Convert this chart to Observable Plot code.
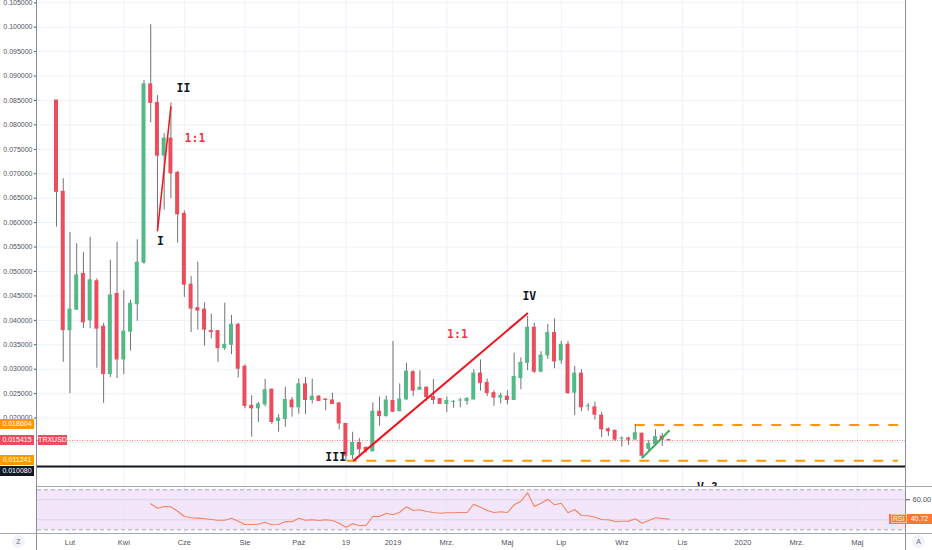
<!DOCTYPE html>
<html>
<head>
<meta charset="utf-8">
<script src="https://cdn.jsdelivr.net/npm/d3@7"></script>
<script src="https://cdn.jsdelivr.net/npm/@observablehq/plot@0.6"></script>
<style>
  html, body { margin: 0; padding: 0; background: #fff; }
  #wrap { position: relative; width: 932px; height: 550px; overflow: hidden; font-family: "Liberation Sans", Arial, sans-serif; }
  #wrap svg { position: absolute; left: 0; }
  .badge { position: absolute; left: 0; width: 34px; height: 10px; line-height: 10px; font-size: 7px; color: #fff; text-align: center; }
  .line { position: absolute; }
  .circ { position: absolute; width: 13px; height: 13px; border-radius: 50%; background: #f0f3fa; color: #6a6d78; font-size: 7px; line-height: 13px; text-align: center; }
</style>
</head>
<body>
<div id="wrap"></div>
<script>
// ---------------- DATA ----------------
const firstWeek = "2018-01-22";   // weekly candles, TRXUSD
const open = [0.0850,0.0663,0.0380,0.0422,0.0495,0.0400,0.0480,0.0387,0.0290,0.0454,
  0.0320,0.0377,0.0433,0.0518,0.0883,0.0845,0.0737,0.0772,0.0702,0.0618,
  0.0473,0.0425,0.0422,0.0378,0.0378,0.0343,0.0350,0.0391,0.0305,0.0225,
  0.0220,0.0228,0.0258,0.0194,0.0198,0.0236,0.0222,0.0269,0.0237,0.0244,
  0.0238,0.0236,0.0230,0.0188,0.0124,0.0149,0.0139,0.0132,0.0213,0.0204,
  0.0235,0.0214,0.0238,0.0294,0.0258,0.0262,0.0243,0.0239,0.0229,0.0233,
  0.0236,0.0235,0.0238,0.0291,0.0272,0.0251,0.0242,0.0244,0.0237,0.0282,
  0.0313,0.0385,0.0295,0.0328,0.0374,0.0318,0.0350,0.0252,0.0291,0.0224,
  0.0222,0.0205,0.0177,0.0174,0.0158,0.0158,0.0156,0.0168,0.0137,0.0147,
  0.0162,0.0155];
const high = [0.0850,0.0690,0.0580,0.0557,0.0539,0.0570,0.0485,0.0394,0.0523,0.0560,
  0.0461,0.0441,0.0565,0.0891,0.1005,0.0860,0.0782,0.0845,0.0705,0.0624,
  0.0490,0.0519,0.0436,0.0413,0.0379,0.0435,0.0410,0.0394,0.0309,0.0246,
  0.0232,0.0279,0.0260,0.0207,0.0263,0.0242,0.0280,0.0283,0.0280,0.0246,
  0.0239,0.0251,0.0232,0.0189,0.0171,0.0158,0.0141,0.0231,0.0243,0.0245,
  0.0357,0.0270,0.0312,0.0297,0.0297,0.0264,0.0279,0.0240,0.0243,0.0236,
  0.0240,0.0242,0.0299,0.0319,0.0280,0.0256,0.0251,0.0256,0.0333,0.0323,
  0.0408,0.0394,0.0336,0.0392,0.0403,0.0357,0.0357,0.0306,0.0299,0.0230,
  0.0233,0.0212,0.0180,0.0175,0.0161,0.0161,0.0187,0.0169,0.0154,0.0176,
  0.0169,0.0156];
const low = [0.0591,0.0314,0.0250,0.0420,0.0383,0.0383,0.0302,0.0230,0.0283,0.0281,
  0.0289,0.0337,0.0398,0.0515,0.0804,0.0584,0.0626,0.0649,0.0558,0.0447,
  0.0375,0.0380,0.0347,0.0362,0.0314,0.0338,0.0330,0.0282,0.0219,0.0161,
  0.0191,0.0223,0.0187,0.0171,0.0181,0.0202,0.0208,0.0207,0.0229,0.0234,
  0.0215,0.0228,0.0176,0.0112,0.0115,0.0123,0.0128,0.0131,0.0183,0.0202,
  0.0212,0.0213,0.0237,0.0244,0.0257,0.0235,0.0228,0.0228,0.0211,0.0220,
  0.0221,0.0226,0.0237,0.0255,0.0244,0.0224,0.0229,0.0227,0.0236,0.0258,
  0.0297,0.0291,0.0293,0.0320,0.0301,0.0310,0.0249,0.0205,0.0213,0.0214,
  0.0196,0.0160,0.0162,0.0152,0.0141,0.0144,0.0155,0.0117,0.0133,0.0146,
  0.0142,0.0154];
const close = [0.0663,0.0380,0.0422,0.0492,0.0396,0.0482,0.0383,0.0290,0.0451,0.0320,
  0.0377,0.0434,0.0518,0.0883,0.0845,0.0737,0.0772,0.0701,0.0617,0.0473,
  0.0424,0.0420,0.0381,0.0376,0.0343,0.0350,0.0391,0.0301,0.0225,0.0220,
  0.0228,0.0257,0.0192,0.0199,0.0237,0.0222,0.0269,0.0237,0.0244,0.0235,
  0.0237,0.0229,0.0189,0.0123,0.0149,0.0136,0.0134,0.0213,0.0204,0.0236,
  0.0213,0.0238,0.0295,0.0256,0.0262,0.0243,0.0237,0.0229,0.0235,0.0233,
  0.0236,0.0239,0.0291,0.0272,0.0251,0.0242,0.0245,0.0237,0.0284,0.0313,
  0.0385,0.0295,0.0328,0.0374,0.0316,0.0350,0.0251,0.0291,0.0222,0.0224,
  0.0207,0.0177,0.0173,0.0156,0.0158,0.0156,0.0169,0.0123,0.0147,0.0161,
  0.0156,0.015415];

const rsiStart = 14;   // first week with an RSI value
const rsi = [56,51.6,53.3,53,48.6,43.3,42,41.7,41,40.3,
  39.6,39.6,41.6,38.6,35.3,35.3,35.6,37.6,35,35.3,
  38.3,38,41.6,39.6,40,39.3,40,39.3,36.6,32.6,
  36,34.3,34.3,43.6,43.3,46.6,45,47.6,53,49.3,
  50,48.3,47.3,46.6,47,47,47.3,47.3,55.6,52.6,
  49.3,47.3,48,47.3,55,58.6,67,53.3,56.6,60.6,
  55,56.6,47,50.3,44.3,44,42.6,40.3,40,38.3,
  38.6,38.6,41,36.6,39.3,42,41.3,40.72];

const tickDates = ["2018-02-05","2018-04-02","2018-06-04","2018-08-06","2018-10-01","2018-11-19",
  "2019-01-07","2019-03-04","2019-05-06","2019-07-01","2019-09-02","2019-11-04",
  "2020-01-06","2020-03-02","2020-05-04"];
const tickLabels = ["Lut","Kwi","Cze","Sie","Paź","19","2019","Mrz.","Maj","Lip","Wrz","Lis","2020","Mrz.","Maj"];
const priceTicks = [0.020,0.025,0.030,0.035,0.040,0.045,0.050,0.055,0.060,0.065,0.070,0.075,0.080,0.085,0.090,0.095,0.100,0.105];
const gridPrices = [0.010,0.015].concat(priceTicks);

// drawn annotations (week index, price)
const trendFromWeek = [15, 44.1, 87];
const trendFromPrice = [0.0582, 0.01124, 0.0118];
const trendToWeek = [17, 70.05, 91.1];
const trendToPrice = [0.0838, 0.0415, 0.0175];
const trendColor = ["#f0141e", "#f0141e", "#3faa5f"];
const trendWidth = [1.5, 2, 2];

const levelPrice = [0.011241, 0.018604];
const levelFromWeek = [43.2, 86];
const levelToWeek = [125.1, 125.1];
const supportPrice = 0.010080;

const labelText = ["I", "II", "III", "IV", "V ?", "1:1", "1:1"];
const labelWeek = [15.45, 18.87, 41.49, 70.26, 96.7, 20.58, 59.58];
const labelPrice = [0.0561, 0.0875, 0.0120, 0.0450, 0.0058, 0.0773, 0.03715];
const labelColor = ["#131722", "#131722", "#131722", "#131722", "#131722", "#f23645", "#f23645"];

const rsiLevels = [30, 70];
const rsiGrid = [40, 60];

// ---------------- BUILD ----------------
const UP = "#53b987", DOWN = "#eb4d5c", WICK = "#737375", TXT = "#50535e", GRID = "#edf1f7";
const t0 = new Date(firstWeek + "T00:00:00Z");
const weekAt = w => new Date(t0.getTime() + w * 7 * 864e5);
const halfBody = 50 * 3600e3;

const candles = open.map((o, i) => ({date: weekAt(i), open: o, high: high[i], low: low[i], close: close[i]}));
const rsiData = rsi.map((v, i) => ({date: weekAt(rsiStart + i), rsi: v}));
const ticks = tickDates.map(s => new Date(s + "T00:00:00Z"));
const labelOf = new Map(ticks.map((d, i) => [+d, tickLabels[i]]));
const trends = trendFromWeek.map((w, i) => ({x1: weekAt(w), y1: trendFromPrice[i], x2: weekAt(trendToWeek[i]), y2: trendToPrice[i], c: trendColor[i], w: trendWidth[i]}));
const levels = levelPrice.map((p, i) => ({p, x1: weekAt(levelFromWeek[i]), x2: weekAt(levelToWeek[i])}));
const labels = labelText.map((t, i) => ({t, x: weekAt(labelWeek[i]), y: labelPrice[i], c: labelColor[i]}));

const xDomain = [weekAt(-2.823), weekAt(126.15)];
const lastClose = close[close.length - 1];
const lastRsi = rsi[rsi.length - 1];

const main = Plot.plot({
  width: 932, height: 487,
  marginLeft: 37, marginRight: 27, marginTop: 0, marginBottom: 0,
  style: {fontFamily: "Liberation Sans, Arial, sans-serif", background: "transparent", overflow: "hidden"},
  x: {type: "utc", domain: xDomain, axis: null},
  y: {domain: [0.005791, 0.105465], axis: null},
  marks: [
    Plot.gridY(gridPrices, {stroke: GRID, strokeOpacity: 1}),
    Plot.gridX(ticks, {stroke: GRID, strokeOpacity: 1}),
    Plot.axisY(priceTicks, {anchor: "left", label: null, tickFormat: d => d.toFixed(6), tickSize: 3, tickPadding: 2, fontSize: 7, color: TXT}),
    Plot.ruleY([lastClose], {stroke: "#ef5350", strokeWidth: 0.8, strokeDasharray: "1,1.5"}),
    Plot.ruleY([supportPrice], {stroke: "#131722", strokeWidth: 2}),
    Plot.ruleY(levels, {y: "p", x1: "x1", x2: "x2", stroke: "#ff9800", strokeWidth: 2, strokeDasharray: "10,9.5"}),
    Plot.ruleX(candles, {x: "date", y1: "low", y2: "high", stroke: WICK, strokeWidth: 1}),
    Plot.rect(candles, {filter: d => d.close >= d.open, x1: d => new Date(+d.date - halfBody), x2: d => new Date(+d.date + halfBody), y1: "open", y2: "close", fill: UP, insetTop: -0.5, insetBottom: -0.5}),
    Plot.rect(candles, {filter: d => d.close < d.open, x1: d => new Date(+d.date - halfBody), x2: d => new Date(+d.date + halfBody), y1: "open", y2: "close", fill: DOWN, insetTop: -0.5, insetBottom: -0.5}),
    ...trends.map(t => Plot.link([t], {x1: "x1", y1: "y1", x2: "x2", y2: "y2", stroke: t.c, strokeWidth: t.w})),
    Plot.text(labels, {x: "x", y: "y", text: "t", fill: d => d.c, fontFamily: "DejaVu Sans Mono", fontWeight: "bold", fontSize: 11.5})
  ]
});

const rsiPlot = Plot.plot({
  width: 932, height: 63,
  marginLeft: 37, marginRight: 27, marginTop: 0, marginBottom: 17,
  style: {fontFamily: "Liberation Sans, Arial, sans-serif", background: "white"},
  x: {type: "utc", domain: xDomain, axis: null},
  y: {domain: [26.3, 72.3], axis: null},
  marks: [
    Plot.rect([rsiLevels], {x1: () => xDomain[0], x2: () => xDomain[1], y1: d => d[0], y2: d => d[1], fill: "#f3e6fb"}),
    Plot.gridX(ticks, {stroke: "#e6e9f2", strokeOpacity: 1}),
    Plot.gridY(rsiGrid, {stroke: "#dcd3e8", strokeOpacity: 1}),
    Plot.ruleY(rsiLevels, {stroke: "#a9abb3", strokeDasharray: "4,3"}),
    Plot.line(rsiData, {x: "date", y: "rsi", stroke: "#f5845f", strokeWidth: 1.1}),
    Plot.axisX(ticks, {anchor: "bottom", label: null, tickSize: 0, tickPadding: 6, tickFormat: d => labelOf.get(+d), fontSize: 7.5, color: TXT}),
    Plot.axisY([60], {anchor: "right", label: null, tickSize: 4, tickPadding: 3, tickFormat: d => d.toFixed(2), fontSize: 7.5, color: TXT})
  ]
});

const wrap = document.getElementById("wrap");
main.style.top = "0px";
rsiPlot.style.top = "487px";
wrap.appendChild(main);
wrap.appendChild(rsiPlot);

// ---------------- OVERLAYS (price badges, frame) ----------------
const ys = main.scale("y"), xs = main.scale("x"), ry = rsiPlot.scale("y");
function badge(text, v, bg, shift) {
  const el = document.createElement("div");
  el.className = "badge";
  el.textContent = text;
  el.style.background = bg;
  el.style.top = (ys.apply(v) - 5 + (shift || 0)) + "px";
  wrap.appendChild(el);
  return el;
}
badge(levelPrice[1].toFixed(6), levelPrice[1], "#ff9800");
badge(lastClose.toFixed(6), lastClose, "#eb4d5c");
badge(levelPrice[0].toFixed(6), levelPrice[0], "#ff9800");
badge(supportPrice.toFixed(6), supportPrice, "#131722", 5);
const sym = badge("TRXUSD", lastClose, "#eb4d5c");
sym.style.left = "38px"; sym.style.width = "29px";

const xl = xs.apply(xDomain[0]), xr = xs.apply(xDomain[1]);
function line(l, t, w, h, c) {
  const el = document.createElement("div");
  el.className = "line";
  Object.assign(el.style, {left: l + "px", top: t + "px", width: w + "px", height: h + "px", background: c});
  wrap.appendChild(el);
}
line(xl - 1, 0, 1, 550, "#8a8d96");
line(xr, 0, 1, 550, "#8a8d96");
line(xl, 486, 932 - xl, 1, "#a3a6ae");
line(0, 532.5, 932, 1, "#a3a6ae");

// RSI value badge on the right
const rb = document.createElement("div");
Object.assign(rb.style, {position: "absolute", left: "889px", top: (487 + ry.apply(lastRsi) - 5) + "px", width: "43px", height: "10px",
  background: "#f97a2c", color: "#fff", fontSize: "7px", lineHeight: "10px", whiteSpace: "nowrap"});
rb.innerHTML = '<span style="display:inline-block;margin-left:2px;padding:0 1px;border:1px solid rgba(255,255,255,0.55);line-height:7px;height:7px;vertical-align:top;margin-top:0.5px">RSI</span><span style="margin-left:4px">' + lastRsi.toFixed(2) + '</span>';
wrap.appendChild(rb);

function circ(txt, l) {
  const el = document.createElement("div");
  el.className = "circ";
  el.textContent = txt;
  el.style.left = l + "px";
  el.style.top = "535px";
  wrap.appendChild(el);
}
circ("Z", 12);
circ("A", 912);
</script>
</body>
</html>
